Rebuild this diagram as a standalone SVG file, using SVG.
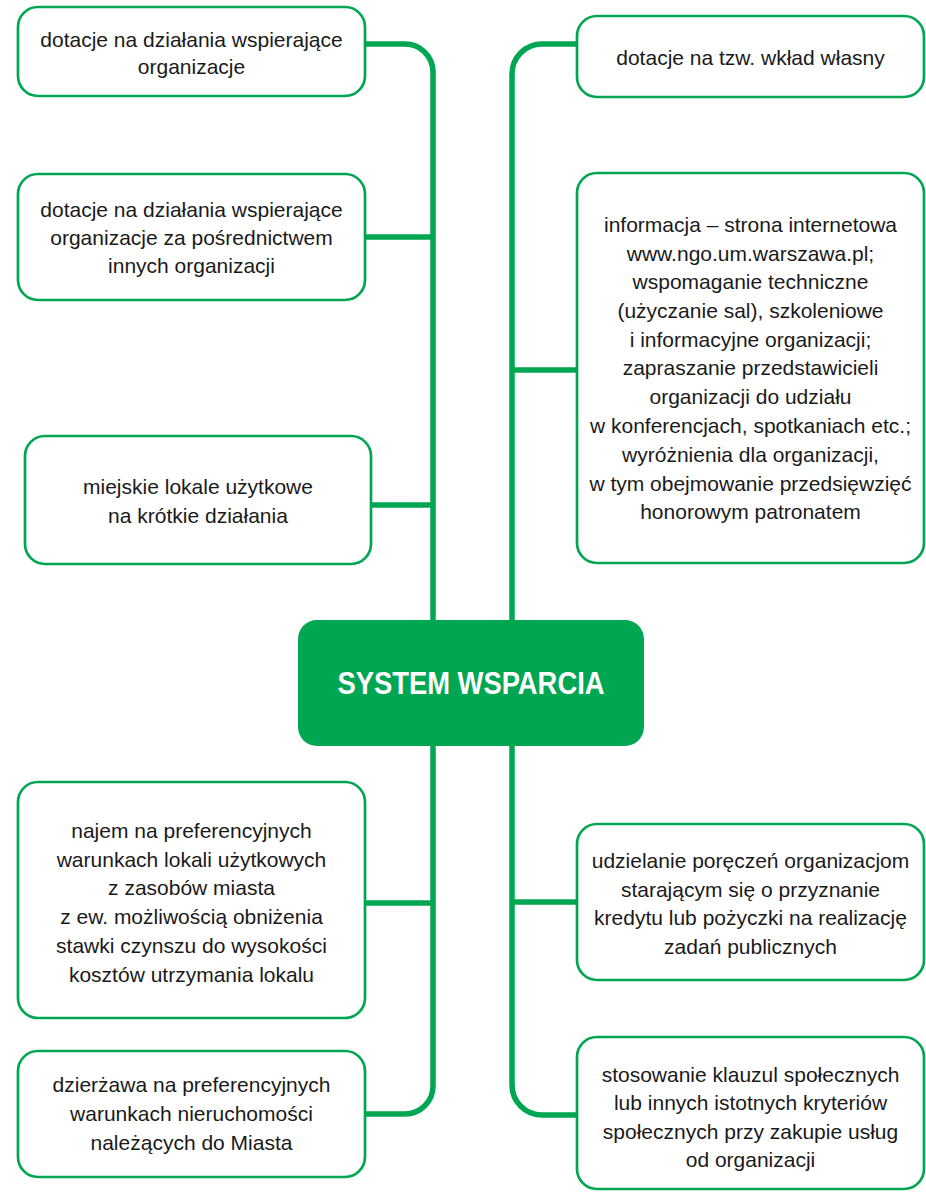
<svg xmlns="http://www.w3.org/2000/svg" width="926" height="1192" viewBox="0 0 926 1192">
<style>
.box{fill:#ffffff;stroke:#00a651;stroke-width:2.7}
.t{font-family:"Liberation Sans",Arial,sans-serif;font-size:21px;fill:#1a1a1a;text-anchor:middle}
.c{fill:none;stroke:#00a651;stroke-width:5.5}
.hub{fill:#00a651}
.ht{font-family:"Liberation Sans",Arial,sans-serif;font-size:31px;font-weight:bold;fill:#ffffff;text-anchor:middle}
</style>
<rect width="926" height="1192" fill="#ffffff"/>
<g id="connectors">
<path class="c" d="M365,44 H405 A28,28 0 0 1 433,72 V620"/>
<path class="c" d="M433,746 V1086 A28,28 0 0 1 405,1114 H365"/>
<path class="c" d="M365,237 H433"/>
<path class="c" d="M371,505 H433"/>
<path class="c" d="M365,903 H433"/>
<path class="c" d="M577,44 H542 A30,30 0 0 0 512,74 V620"/>
<path class="c" d="M512,746 V1085 A30,30 0 0 0 542,1115 H577"/>
<path class="c" d="M512,370 H577"/>
<path class="c" d="M512,902 H577"/>
</g>
<g id="hub">
<rect class="hub" x="298" y="620" width="346" height="126" rx="19"/>
<text class="ht" x="471" y="694" textLength="267" lengthAdjust="spacingAndGlyphs">SYSTEM WSPARCIA</text>
</g>
<g id="n1">
<rect class="box" x="18" y="7" width="347" height="89" rx="20"/>
<text class="t" x="191.5" y="47">dotacje na działania wspierające</text>
<text class="t" x="191.5" y="74">organizacje</text>
</g>
<g id="n2">
<rect class="box" x="18" y="174" width="347" height="126" rx="20"/>
<text class="t" x="191.5" y="217">dotacje na działania wspierające</text>
<text class="t" x="191.5" y="245">organizacje za pośrednictwem</text>
<text class="t" x="191.5" y="273">innych organizacji</text>
</g>
<g id="n3">
<rect class="box" x="25" y="436" width="346" height="128" rx="20"/>
<text class="t" x="198" y="494">miejskie lokale użytkowe</text>
<text class="t" x="198" y="523">na krótkie działania</text>
</g>
<g id="n4">
<rect class="box" x="18" y="782" width="347" height="236" rx="20"/>
<text class="t" x="191.5" y="838">najem na preferencyjnych</text>
<text class="t" x="191.5" y="867">warunkach lokali użytkowych</text>
<text class="t" x="191.5" y="895">z zasobów miasta</text>
<text class="t" x="191.5" y="924">z ew. możliwością obniżenia</text>
<text class="t" x="191.5" y="953">stawki czynszu do wysokości</text>
<text class="t" x="191.5" y="982">kosztów utrzymania lokalu</text>
</g>
<g id="n5">
<rect class="box" x="18" y="1051" width="347" height="126" rx="20"/>
<text class="t" x="191.5" y="1092">dzierżawa na preferencyjnych</text>
<text class="t" x="191.5" y="1121">warunkach nieruchomości</text>
<text class="t" x="191.5" y="1150">należących do Miasta</text>
</g>
<g id="n6">
<rect class="box" x="577" y="16" width="347" height="81" rx="20"/>
<text class="t" x="750.5" y="65">dotacje na tzw. wkład własny</text>
</g>
<g id="n7">
<rect class="box" x="577" y="173" width="347" height="390" rx="20"/>
<text class="t" x="750.5" y="232">informacja – strona internetowa</text>
<text class="t" x="750.5" y="260.5">www.ngo.um.warszawa.pl;</text>
<text class="t" x="750.5" y="289">wspomaganie techniczne</text>
<text class="t" x="750.5" y="318">(użyczanie sal), szkoleniowe</text>
<text class="t" x="750.5" y="347">i informacyjne organizacji;</text>
<text class="t" x="750.5" y="375">zapraszanie przedstawicieli</text>
<text class="t" x="750.5" y="404">organizacji do udziału</text>
<text class="t" x="750.5" y="433">w konferencjach, spotkaniach etc.;</text>
<text class="t" x="750.5" y="462">wyróżnienia dla organizacji,</text>
<text class="t" x="750.5" y="491">w tym obejmowanie przedsięwzięć</text>
<text class="t" x="750.5" y="519">honorowym patronatem</text>
</g>
<g id="n8">
<rect class="box" x="577" y="824" width="347" height="156" rx="20"/>
<text class="t" x="750.5" y="868">udzielanie poręczeń organizacjom</text>
<text class="t" x="750.5" y="897">starającym się o przyznanie</text>
<text class="t" x="750.5" y="925">kredytu lub pożyczki na realizację</text>
<text class="t" x="750.5" y="954">zadań publicznych</text>
</g>
<g id="n9">
<rect class="box" x="577" y="1037" width="347" height="152" rx="20"/>
<text class="t" x="750.5" y="1082">stosowanie klauzul społecznych</text>
<text class="t" x="750.5" y="1110">lub innych istotnych kryteriów</text>
<text class="t" x="750.5" y="1139">społecznych przy zakupie usług</text>
<text class="t" x="750.5" y="1167">od organizacji</text>
</g>
</svg>
